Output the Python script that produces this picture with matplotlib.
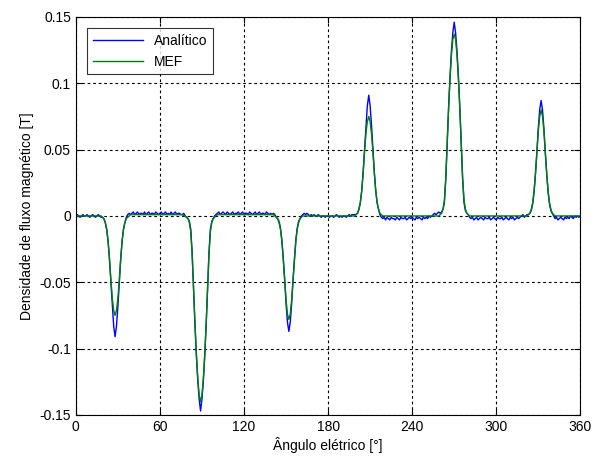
"""Densidade de fluxo magnetico: analitico vs MEF"""

import numpy as np
import matplotlib
matplotlib.use("Agg")
import matplotlib.pyplot as plt

plt.rcParams['font.family'] = ['Liberation Sans', 'DejaVu Sans']

# angle in electrical degrees, 1 degree step
angulo = np.arange(0, 361, 1)

# analytic solution (T), one row per 10 degrees
analitico = [
    0.000, 0.001, 0.000, -0.001, 0.000, 0.001, 0.000, 0.000, 0.001, 0.000,
    -0.001, 0.000, 0.001, 0.000, -0.001, 0.000, 0.001, 0.000, -0.001, -0.001,
    -0.002, -0.005, -0.010, -0.019, -0.033, -0.050, -0.068, -0.083, -0.091, -0.083,
    -0.068, -0.050, -0.033, -0.019, -0.010, -0.005, -0.001, 0.001, 0.002, 0.001,
    0.002, 0.003, 0.001, 0.002, 0.003, 0.001, 0.002, 0.002, 0.001, 0.003,
    0.001, 0.002, 0.003, 0.001, 0.002, 0.002, 0.001, 0.003, 0.002, 0.001,
    0.002, 0.003, 0.001, 0.002, 0.003, 0.001, 0.002, 0.001, 0.003, 0.001,
    0.002, 0.003, 0.001, 0.002, 0.002, 0.001, 0.001, 0.002, 0.000, -0.001,
    -0.002, -0.004, -0.010, -0.028, -0.055, -0.082, -0.105, -0.124, -0.138, -0.147,
    -0.138, -0.124, -0.105, -0.082, -0.055, -0.028, -0.010, -0.004, -0.002, 0.000,
    0.001, 0.002, 0.003, 0.001, 0.002, 0.003, 0.002, 0.001, 0.003, 0.002,
    0.001, 0.002, 0.003, 0.001, 0.002, 0.002, 0.003, 0.001, 0.002, 0.003,
    0.001, 0.002, 0.002, 0.001, 0.003, 0.002, 0.001, 0.002, 0.003, 0.001,
    0.002, 0.003, 0.001, 0.002, 0.002, 0.001, 0.003, 0.002, 0.001, 0.002,
    0.001, 0.002, 0.001, -0.001, -0.002, -0.004, -0.009, -0.018, -0.032, -0.048,
    -0.066, -0.080, -0.087, -0.080, -0.066, -0.048, -0.032, -0.018, -0.009, -0.004,
    -0.002, 0.000, 0.001, 0.002, 0.001, 0.002, 0.001, 0.000, 0.001, 0.000,
    0.001, 0.000, 0.000, 0.001, 0.000, -0.001, 0.000, 0.000, -0.001, 0.000,
    0.000, -0.001, 0.000, 0.000, -0.001, 0.000, 0.001, 0.000, -0.001, 0.000,
    -0.001, 0.000, 0.000, -0.001, 0.000, 0.001, 0.000, 0.001, 0.001, 0.001,
    0.001, 0.002, 0.005, 0.010, 0.019, 0.033, 0.050, 0.068, 0.083, 0.091,
    0.083, 0.068, 0.050, 0.033, 0.019, 0.010, 0.005, 0.001, -0.001, -0.002,
    -0.001, -0.003, -0.001, -0.002, -0.003, -0.001, -0.002, -0.002, -0.003, -0.001,
    -0.002, -0.003, -0.001, -0.002, -0.002, -0.001, -0.003, -0.002, -0.001, -0.002,
    -0.001, -0.002, -0.003, -0.001, -0.002, -0.001, -0.002, -0.003, -0.001, -0.002,
    -0.001, -0.002, 0.000, -0.001, 0.000, 0.001, 0.002, 0.001, 0.002, 0.003,
    0.002, 0.003, 0.005, 0.010, 0.028, 0.055, 0.082, 0.105, 0.124, 0.138,
    0.146, 0.138, 0.124, 0.105, 0.082, 0.055, 0.028, 0.010, 0.004, 0.002,
    0.001, -0.001, -0.002, -0.001, -0.003, -0.002, -0.001, -0.003, -0.002, -0.001,
    -0.002, -0.003, -0.001, -0.002, -0.002, -0.001, -0.003, -0.002, -0.001, -0.002,
    -0.003, -0.001, -0.002, -0.002, -0.001, -0.003, -0.002, -0.001, -0.002, -0.003,
    -0.001, -0.002, -0.001, -0.003, -0.002, -0.001, -0.002, -0.001, 0.000, 0.001,
    -0.001, 0.000, 0.001, 0.001, 0.002, 0.004, 0.009, 0.018, 0.032, 0.048,
    0.066, 0.080, 0.087, 0.080, 0.066, 0.048, 0.032, 0.018, 0.009, 0.004,
    0.002, 0.000, -0.002, -0.001, -0.003, -0.002, -0.001, -0.002, -0.003, -0.001,
    -0.002, -0.001, -0.002, 0.000, -0.001, -0.002, 0.000, -0.001, 0.000, -0.001,
    0.000,
]

# finite element result (T)
mef = [
    0.000, 0.000, 0.000, 0.000, 0.000, 0.000, 0.000, 0.000, 0.000, 0.000,
    0.000, 0.000, 0.000, 0.000, 0.000, 0.000, 0.000, 0.000, 0.000, -0.001,
    -0.002, -0.005, -0.010, -0.019, -0.032, -0.048, -0.062, -0.071, -0.075, -0.071,
    -0.062, -0.048, -0.032, -0.019, -0.010, -0.005, -0.002, -0.001, 0.000, 0.001,
    0.001, 0.001, 0.001, 0.001, 0.001, 0.001, 0.001, 0.001, 0.001, 0.001,
    0.001, 0.001, 0.001, 0.001, 0.001, 0.001, 0.001, 0.001, 0.001, 0.001,
    0.001, 0.001, 0.001, 0.001, 0.001, 0.001, 0.001, 0.001, 0.001, 0.001,
    0.001, 0.001, 0.001, 0.001, 0.001, 0.001, 0.001, 0.000, 0.000, -0.001,
    -0.002, -0.005, -0.012, -0.029, -0.055, -0.081, -0.104, -0.122, -0.135, -0.140,
    -0.135, -0.122, -0.104, -0.081, -0.055, -0.029, -0.012, -0.005, -0.002, -0.001,
    0.000, 0.001, 0.001, 0.001, 0.001, 0.001, 0.001, 0.001, 0.001, 0.001,
    0.001, 0.001, 0.001, 0.001, 0.001, 0.001, 0.001, 0.001, 0.001, 0.001,
    0.001, 0.001, 0.001, 0.001, 0.001, 0.001, 0.001, 0.001, 0.001, 0.001,
    0.001, 0.001, 0.001, 0.001, 0.001, 0.001, 0.001, 0.001, 0.001, 0.001,
    0.001, 0.001, 0.000, -0.001, -0.002, -0.005, -0.010, -0.019, -0.032, -0.048,
    -0.063, -0.074, -0.078, -0.074, -0.063, -0.048, -0.032, -0.019, -0.010, -0.005,
    -0.002, -0.001, 0.000, 0.000, 0.000, 0.000, 0.000, 0.000, 0.000, 0.000,
    0.000, 0.000, 0.000, 0.000, 0.000, 0.000, 0.000, 0.000, 0.000, 0.000,
    0.000, 0.000, 0.000, 0.000, 0.000, 0.000, 0.000, 0.000, 0.000, 0.000,
    0.000, 0.000, 0.000, 0.000, 0.000, 0.000, 0.000, 0.000, 0.000, 0.000,
    0.001, 0.002, 0.005, 0.010, 0.019, 0.032, 0.048, 0.062, 0.071, 0.075,
    0.071, 0.062, 0.048, 0.032, 0.019, 0.010, 0.005, 0.002, 0.001, 0.000,
    0.000, 0.000, 0.000, 0.000, 0.000, 0.000, 0.000, 0.000, 0.000, 0.000,
    0.000, 0.000, 0.000, 0.000, 0.000, 0.000, 0.000, 0.000, 0.000, 0.000,
    0.000, 0.000, 0.000, 0.000, 0.000, 0.000, 0.000, 0.000, 0.000, 0.000,
    0.000, 0.000, 0.000, 0.000, 0.000, 0.000, 0.000, 0.000, 0.000, 0.000,
    0.001, 0.002, 0.005, 0.012, 0.029, 0.055, 0.081, 0.103, 0.121, 0.133,
    0.137, 0.133, 0.121, 0.103, 0.081, 0.055, 0.029, 0.012, 0.005, 0.002,
    0.001, 0.000, 0.000, 0.000, 0.000, 0.000, 0.000, 0.000, 0.000, 0.000,
    0.000, 0.000, 0.000, 0.000, 0.000, 0.000, 0.000, 0.000, 0.000, 0.000,
    0.000, 0.000, 0.000, 0.000, 0.000, 0.000, 0.000, 0.000, 0.000, 0.000,
    0.000, 0.000, 0.000, 0.000, 0.000, 0.000, 0.000, 0.000, 0.000, 0.000,
    0.000, 0.000, 0.000, 0.001, 0.002, 0.005, 0.010, 0.019, 0.032, 0.048,
    0.064, 0.075, 0.080, 0.075, 0.064, 0.048, 0.032, 0.019, 0.010, 0.005,
    0.002, 0.001, 0.000, 0.000, 0.000, 0.000, 0.000, 0.000, 0.000, 0.000,
    0.000, 0.000, 0.000, 0.000, 0.000, 0.000, 0.000, 0.000, 0.000, 0.000,
    0.000,
]

x_ticks = [0, 60, 120, 180, 240, 300, 360]
y_ticks = [-0.15, -0.1, -0.05, 0, 0.05, 0.1, 0.15]
y_ticklabels = ["-0.15", "-0.1", "-0.05", "0", "0.05", "0.1", "0.15"]

fig = plt.figure(figsize=(6.02, 4.58), dpi=100)
ax = fig.add_axes([0.126, 0.094, 0.838, 0.869])

ax.plot(angulo, analitico, color=(0, 0, 1), lw=1.0, label="Analítico")
ax.plot(angulo, mef, color=(0, 0.5, 0), lw=1.0, label="MEF")

ax.set_xlim(0, 360)
ax.set_ylim(-0.15, 0.15)
ax.set_xticks(x_ticks)
ax.set_yticks(y_ticks)
ax.set_yticklabels(y_ticklabels)

ax.grid(True, color="black", linestyle=(0, (2.5, 2.5)), linewidth=0.8)
ax.tick_params(direction="in", top=True, right=True, labelsize=10, length=4)
for spine in ax.spines.values():
    spine.set_linewidth(0.8)

ax.set_xlabel("Ângulo elétrico [°]", fontsize=10, labelpad=2)
ax.set_ylabel("Densidade de fluxo magnético [T]", fontsize=10, labelpad=4)

leg = ax.legend(loc="upper left", fancybox=False, edgecolor="black",
                fontsize=10, handlelength=3.6, borderaxespad=0.8)
leg.get_frame().set_linewidth(0.8)

fig.savefig("out.png", dpi=100)
